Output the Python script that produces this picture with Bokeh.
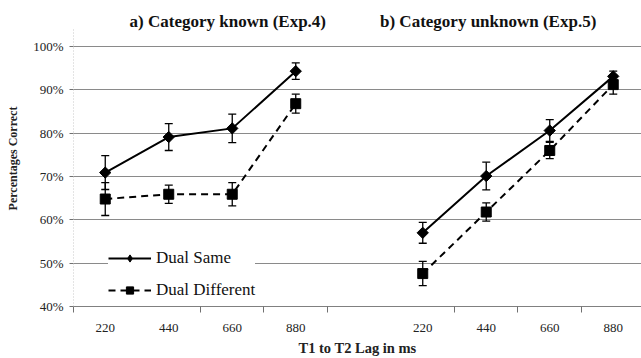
import math
from bokeh.plotting import figure
from bokeh.models import (Range1d, FixedTicker, Legend, LegendItem, Whisker, TeeHead,
                          ColumnDataSource, Label, PrintfTickFormatter)
from bokeh.embed import file_html
from bokeh.resources import INLINE

# ---- data ----
lags = ["220", "440", "660", "880"]
panel_titles = ["a) Category known (Exp.4)", "b) Category unknown (Exp.5)"]
series_names = ["Dual Same", "Dual Different"]

same_known = [70.9, 79.1, 81.1, 94.3]
same_known_err = [3.9, 3.1, 3.3, 1.9]
diff_known = [64.8, 65.9, 65.9, 86.8]
diff_known_err = [3.8, 2.1, 2.7, 2.2]

same_unknown = [57.0, 70.1, 80.6, 93.1]
same_unknown_err = [2.4, 3.2, 2.5, 1.2]
diff_unknown = [47.6, 61.8, 76.0, 91.2]
diff_unknown_err = [2.8, 2.1, 1.9, 2.2]

yticks = [40, 50, 60, 70, 80, 90, 100]

SERIF = "Liberation Serif"

# category slots: 4 lags, an empty slot, 4 lags
x_left = [i + 0.5 for i in range(len(lags))]
x_right = [i + len(lags) + 1.5 for i in range(len(lags))]
slot_edges = [0, 2, 3, 4, 6, 7, 8]

p = figure(width=641, height=358, output_backend="svg", toolbar_location=None,
           x_range=Range1d(0, 8.945), y_range=Range1d(40, 108.3),
           min_border_left=73, min_border_right=0, min_border_top=10, min_border_bottom=51)
p.outline_line_color = None
p.background_fill_color = "white"
p.xgrid.visible = False
p.ygrid.ticker = FixedTicker(ticks=yticks[1:])
p.ygrid.grid_line_color = "#8a8a8a"
p.ygrid.grid_line_width = 1

# y axis
p.yaxis.ticker = FixedTicker(ticks=yticks)
p.yaxis.bounds = (40, 104)
p.yaxis.formatter = PrintfTickFormatter(format="%d%%")
p.yaxis.axis_line_color = "#c8c8c8"
p.yaxis.axis_line_dash = "1 2"
p.yaxis.major_tick_out = 4
p.yaxis.major_tick_in = 0
p.yaxis.minor_tick_line_color = None
p.yaxis.major_tick_line_color = "#707070"
p.yaxis.major_label_standoff = 6
p.yaxis.major_label_text_font = SERIF
p.yaxis.major_label_text_font_size = "13px"
p.yaxis.major_label_text_color = "#222222"
p.yaxis.axis_label = "Percentages Correct"
p.yaxis.axis_label_text_font = SERIF
p.yaxis.axis_label_text_font_style = "bold"
p.yaxis.axis_label_text_font_size = "12px"
p.yaxis.axis_label_text_color = "#222222"
p.yaxis.axis_label_standoff = 10

# x axis
labels = {}
for xs in (x_left, x_right):
    for xv, lab in zip(xs, lags):
        labels[xv] = lab
p.xaxis.ticker = FixedTicker(ticks=x_left + x_right, minor_ticks=slot_edges)
p.xaxis.major_label_overrides = labels
p.xaxis.major_tick_out = 0
p.xaxis.major_tick_in = 0
p.xaxis.minor_tick_out = 6
p.xaxis.minor_tick_in = 0
p.xaxis.minor_tick_line_color = "#707070"
p.xaxis.axis_line_color = "#808080"
p.xaxis.major_label_standoff = 11
p.xaxis.major_label_text_font = SERIF
p.xaxis.major_label_text_font_size = "13px"
p.xaxis.major_label_text_color = "#222222"
p.xaxis.axis_label = "T1 to T2 Lag in ms"
p.xaxis.axis_label_text_font = SERIF
p.xaxis.axis_label_text_font_style = "bold"
p.xaxis.axis_label_text_font_size = "14.5px"
p.xaxis.axis_label_text_color = "#222222"
p.xaxis.axis_label_standoff = 5


def add_whiskers(xs, ys, errs):
    src = ColumnDataSource(dict(x=xs, upper=[y + e for y, e in zip(ys, errs)],
                                lower=[y - e for y, e in zip(ys, errs)]))
    w = Whisker(base="x", upper="upper", lower="lower", source=src, dimension="height",
                line_color="black", line_width=1.3,
                upper_head=TeeHead(size=8, line_color="black", line_width=1.3),
                lower_head=TeeHead(size=8, line_color="black", line_width=1.3))
    p.add_layout(w)


legend_same = []
legend_diff = []
for xs, s, se, d, de in ((x_left, same_known, same_known_err, diff_known, diff_known_err),
                         (x_right, same_unknown, same_unknown_err, diff_unknown, diff_unknown_err)):
    add_whiskers(xs, d, de)
    add_whiskers(xs, s, se)
    ld = p.line(xs, d, line_color="black", line_width=2, line_dash="7 5")
    md = p.scatter(xs, d, marker="square", size=10, fill_color="black", line_color="black")
    ls = p.line(xs, s, line_color="black", line_width=2)
    p.scatter(xs, s, marker="square", angle=math.pi / 4, size=8,
              fill_color="black", line_color="black")
    ds = p.scatter(xs, s, marker="diamond", size=9, fill_color="black", line_color="black")
    if not legend_same:
        legend_same = [ls, ds]
        legend_diff = [ld, md]

legend = Legend(items=[LegendItem(label=series_names[0], renderers=legend_same),
                       LegendItem(label=series_names[1], renderers=legend_diff)],
                location=(35, 6), background_fill_color="white", background_fill_alpha=1,
                border_line_color=None, padding=6, spacing=12, margin=0,
                glyph_width=43, glyph_height=18, label_height=18, label_standoff=5,
                label_text_font=SERIF, label_text_font_size="17px", label_text_color="#111111")
p.add_layout(legend)

for xc, t in ((2.43, panel_titles[0]), (6.53, panel_titles[1])):
    p.add_layout(Label(x=xc, y=105.75, text=t, text_align="center", text_baseline="middle",
                       text_font=SERIF, text_font_style="bold", text_font_size="17px",
                       text_color="#111111"))

open("out.html", "w").write(file_html(p, INLINE))
